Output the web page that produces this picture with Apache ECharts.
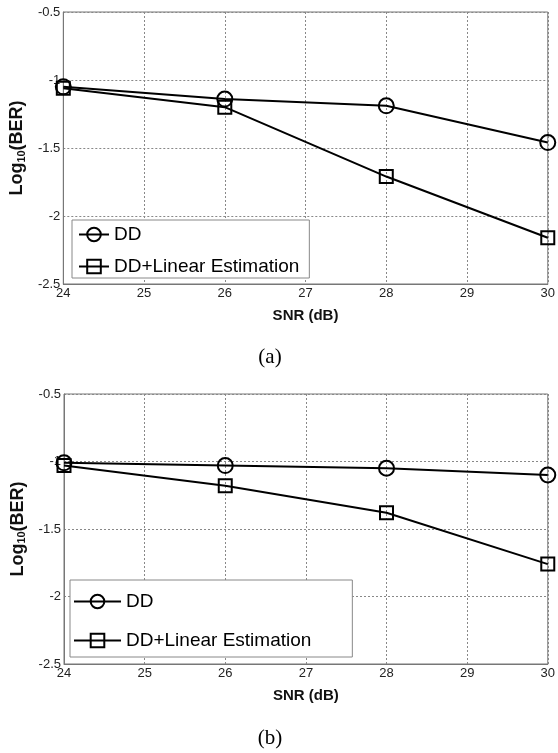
<!DOCTYPE html>
<html lang="en">
<head>
<meta charset="UTF-8">
<title>BER vs SNR</title>
<script src="https://cdn.jsdelivr.net/npm/echarts@6/dist/echarts.min.js"></script>
<style>
html, body { margin: 0; padding: 0; background: #fff; }
#chart { width: 558px; height: 753px; }
</style>
</head>
<body>
<div id="chart"></div>
<script>
// SNR (dB) points
var snr = [24, 26, 28, 30];
// panel (a)
var ddA  = [-1.05, -1.14, -1.19, -1.46];
var linA = [-1.06, -1.20, -1.71, -2.16];
// panel (b)
var ddB  = [-1.01, -1.03, -1.05, -1.10];
var linB = [-1.03, -1.18, -1.38, -1.76];

var names = ['DD', 'DD+Linear Estimation'];
var sans = '"Liberation Sans", Arial, sans-serif';

function pts(ys) {
    return snr.map(function (x, i) { return [x, ys[i]]; });
}

function xAx(idx) {
    return {
        type: 'value', gridIndex: idx, min: 24, max: 30, interval: 1,
        name: 'SNR (dB)', nameLocation: 'middle', nameGap: 24,
        nameTextStyle: { fontFamily: sans, fontWeight: 'bold', fontSize: 15, color: '#111' },
        axisLine: { lineStyle: { color: '#777' } },
        axisTick: { show: false },
        axisLabel: { margin: 3, fontFamily: sans, fontSize: 13, color: '#222' },
        splitLine: { show: true, lineStyle: { type: [2, 2], color: '#888' } }
    };
}

function yAx(idx) {
    return {
        type: 'value', gridIndex: idx, min: -2.5, max: -0.5, interval: 0.5,
        name: '{a|Log}{s|10}{a|(BER)}', nameLocation: 'middle', nameGap: 33,
        nameTextStyle: {
            rich: {
                a: { fontFamily: sans, fontWeight: 'bold', fontSize: 18, color: '#111', lineHeight: 20 },
                s: { fontFamily: sans, fontWeight: 'bold', fontSize: 11, color: '#111', lineHeight: 20, verticalAlign: 'bottom', padding: [8, 0, 0, 0] }
            }
        },
        axisLine: { lineStyle: { color: '#777' } },
        axisTick: { show: false },
        axisLabel: { margin: 3, fontFamily: sans, fontSize: 13, color: '#222' },
        splitLine: { show: true, lineStyle: { type: [2, 2], color: '#888' } }
    };
}

// hollow markers, the line shows through them like the original plot
function line(name, idx, ys, symbol, size) {
    return {
        name: name, type: 'line', xAxisIndex: idx, yAxisIndex: idx,
        data: pts(ys), symbol: symbol, symbolSize: size, showAllSymbol: true,
        lineStyle: { color: '#000', width: 2 },
        itemStyle: { color: 'rgba(0,0,0,0)', borderColor: '#000', borderWidth: 2 },
        emphasis: { disabled: true },
        animation: false
    };
}

var legendText = { fontFamily: sans, fontSize: 19, color: '#000' };

var option = {
    backgroundColor: '#fff',
    animation: false,
    title: [
        { text: '(a)', left: 265, top: 342, textAlign: 'center',
          textStyle: { fontFamily: 'Liberation Serif', fontWeight: 'normal', fontSize: 21, color: '#000' } },
        { text: '(b)', left: 265, top: 723, textAlign: 'center',
          textStyle: { fontFamily: 'Liberation Serif', fontWeight: 'normal', fontSize: 21, color: '#000' } }
    ],
    grid: [
        { left: 63, top: 12, width: 488, height: 272, show: true, borderColor: '#777', borderWidth: 1, backgroundColor: '#fff' },
        { left: 64, top: 394, width: 487, height: 270, show: true, borderColor: '#777', borderWidth: 1, backgroundColor: '#fff' }
    ],
    legend: [
        { data: names, orient: 'vertical', left: 72, top: 220, padding: [5, 10, 2, 6],
          itemWidth: 30, itemHeight: 17, itemGap: 13, borderColor: '#888', borderWidth: 1,
          backgroundColor: '#fff', textStyle: legendText, selectedMode: false },
        { data: names, orient: 'vertical', left: 70, top: 580, padding: [12, 41, 7, 3],
          itemWidth: 47, itemHeight: 17, itemGap: 20, borderColor: '#888', borderWidth: 1,
          backgroundColor: '#fff', textStyle: legendText, selectedMode: false }
    ],
    xAxis: [xAx(0), xAx(1)],
    yAxis: [yAx(0), yAx(1)],
    series: [
        line(names[0], 0, ddA, 'circle', 15),
        line(names[1], 0, linA, 'rect', 13),
        line(names[0], 1, ddB, 'circle', 15),
        line(names[1], 1, linB, 'rect', 13)
    ]
};

var chart = echarts.init(document.getElementById('chart'), null, { renderer: 'canvas' });
chart.setOption(option);
</script>
</body>
</html>
